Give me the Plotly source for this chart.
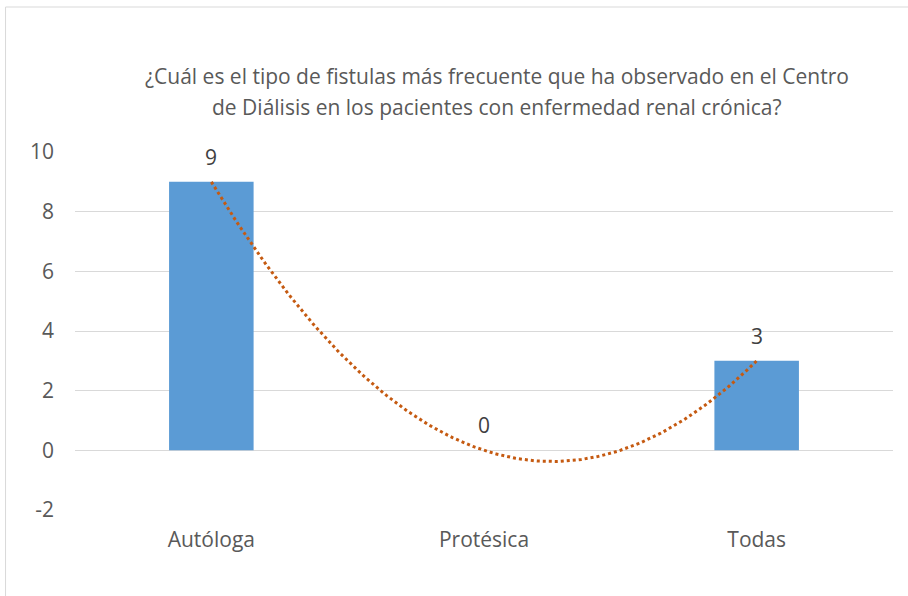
import numpy as np
import plotly.graph_objects as go

categories = ["Autóloga", "Protésica", "Todas"]
values = [9, 0, 3]
y_ticks = [-2, 0, 2, 4, 6, 8, 10]
y_tick_labels = ["-2", "0", "2", "4", "6", "8", "10"]
title_lines = [
    "¿Cuál es el tipo de fistulas más frecuente que ha observado en el Centro",
    "de Diálisis en los pacientes con enfermedad renal crónica?",
]

x_pos = list(range(1, len(categories) + 1))

# polynomial (order 2) trendline computed from the data
coef = np.polyfit(x_pos, values, 2)
xt = np.linspace(1, 3, 200)
yt = np.polyval(coef, xt)

FONT = "Open Sans"

fig = go.Figure()
fig.add_trace(go.Bar(
    x=x_pos, y=values, width=0.31,
    marker=dict(color="#5b9bd5", line=dict(width=0)),
    showlegend=False, hoverinfo="skip",
))
fig.add_trace(go.Scatter(
    x=xt, y=yt, mode="lines",
    line=dict(color="#c55a11", width=3, dash="dot"),
    showlegend=False, hoverinfo="skip",
))

annotations = []
for xp, v in zip(x_pos, values):
    annotations.append(dict(
        x=xp, y=v, xref="x", yref="y", text=str(v), showarrow=False,
        yanchor="middle", yshift=25,
        font=dict(family=FONT, size=21, color="#404040"),
    ))
for i, line in enumerate(title_lines):
    annotations.append(dict(
        x=0.5165, y=[1.2123, 1.1257][i], xref="paper", yref="paper",
        text=line, showarrow=False, xanchor="center", yanchor="middle",
        font=dict(family=FONT, size=21, color="#595959"),
    ))

fig.update_layout(
    width=908, height=596,
    margin=dict(l=74.5, r=14.5, t=152, b=86),
    paper_bgcolor="white", plot_bgcolor="white",
    xaxis=dict(
        range=[0.5, 3.5], tickvals=x_pos, ticktext=categories,
        showgrid=False, zeroline=False, showline=False,
        tickfont=dict(family=FONT, size=21, color="#595959"),
        ticklabelstandoff=15,
    ),
    yaxis=dict(
        range=[-2, 10], tickvals=y_ticks, ticktext=y_tick_labels,
        showgrid=True, gridcolor="#d9d9d9", gridwidth=1,
        zeroline=True, zerolinecolor="#d9d9d9", zerolinewidth=1,
        showline=False,
        tickfont=dict(family=FONT, size=21, color="#595959"),
        ticklabelstandoff=20,
    ),
    annotations=annotations,
    shapes=[dict(
        type="rect", xref="paper", yref="paper",
        x0=-0.0849, x1=1.03, y0=-0.3, y1=1.405,
        line=dict(color="#d9d9d9", width=1), fillcolor="rgba(0,0,0,0)",
        layer="below",
    )],
)

fig.write_html("out.html")
